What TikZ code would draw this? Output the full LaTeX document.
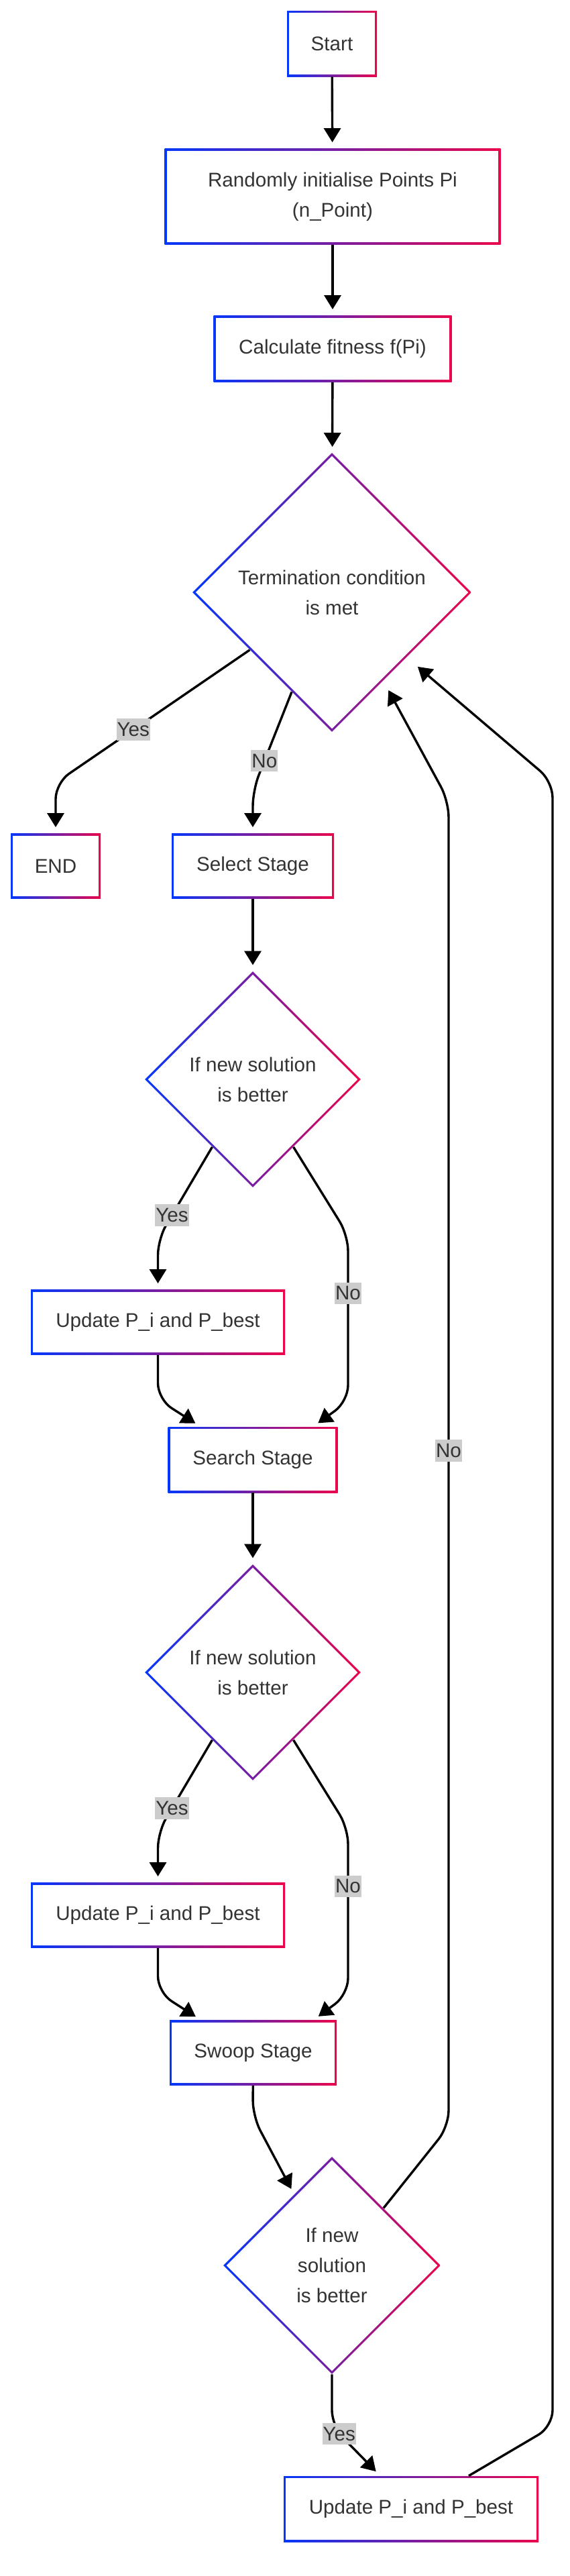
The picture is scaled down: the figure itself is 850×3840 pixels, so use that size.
\documentclass[tikz,border=0pt]{standalone}
\usepackage{fontspec}
\setmainfont{Liberation Sans}
\usetikzlibrary{shapes.geometric,arrows.meta}
\definecolor{gblue}{RGB}{5,55,250}
\definecolor{gred}{RGB}{235,5,75}
\definecolor{txt}{HTML}{333333}
\definecolor{lbg}{HTML}{CCCCCC}
\begin{document}
\begin{tikzpicture}[x=0.5pt,y=-0.5pt,
box/.style={rectangle,fill=white,inner sep=0pt,align=center,text=txt,font=\fontsize{14.8}{22.5}\selectfont,
 path picture={\shade[left color=gblue,right color=gred](path picture bounding box.south west)rectangle(path picture bounding box.north east);
 \fill[white]([shift={(1.6pt,1.6pt)}]path picture bounding box.south west)rectangle([shift={(-1.6pt,-1.6pt)}]path picture bounding box.north east);}},
dec/.style={diamond,aspect=1,fill=white,inner sep=0pt,align=center,text=txt,font=\fontsize{14.8}{22.5}\selectfont,
 path picture={\shade[left color=gblue,right color=gred](path picture bounding box.south west)rectangle(path picture bounding box.north east);
 \fill[white]([xshift=2.3pt]path picture bounding box.west)--([yshift=-2.3pt]path picture bounding box.north)--([xshift=-2.3pt]path picture bounding box.east)--([yshift=2.3pt]path picture bounding box.south)--cycle;}},
lbl/.style={sharp corners,fill=lbg,text=txt,font=\fontsize{14.8}{22.5}\selectfont,inner xsep=0.5pt,inner ysep=3pt},
arr/.style={-{Triangle[length=10.5pt,width=12.5pt]},line width=1.7pt,rounded corners=12pt,shorten >=4.5pt}]
\useasboundingbox(0,0)rectangle(850,3840);
\node[box,minimum width=67pt,minimum height=49pt](Start)at(495,65){Start};
\node[box,minimum width=250.5pt,minimum height=71.5pt](Init)at(496,293){Randomly initialise Points Pi\\(n\_Point)};
\node[box,minimum width=177.5pt,minimum height=49.5pt](Calc)at(496,520){Calculate fitness f(Pi)};
\node[dec,minimum size=208pt](Term)at(495,883){Termination condition\\is met};
\node[box,minimum width=67pt,minimum height=48.5pt](END)at(83,1291){END};
\node[box,minimum width=121pt,minimum height=48.5pt](Select)at(377,1291){Select Stage};
\node[dec,minimum size=161pt](Dec1)at(377,1609){If new solution\\is better};
\node[box,minimum width=189.5pt,minimum height=48.5pt](Upd1)at(235.5,1971){Update P\_i and P\_best};
\node[box,minimum width=126.5pt,minimum height=49pt](Search)at(377,2176){Search Stage};
\node[dec,minimum size=161pt](Dec2)at(377,2493){If new solution\\is better};
\node[box,minimum width=189.5pt,minimum height=48.5pt](Upd2)at(235.5,2855){Update P\_i and P\_best};
\node[box,minimum width=124.5pt,minimum height=48.5pt](Swoop)at(377.5,3060){Swoop Stage};
\node[dec,minimum size=162pt](Dec3)at(495,3377){If new\\solution\\is better};
\node[box,minimum width=190pt,minimum height=49pt](Upd3)at(613,3740){Update P\_i and P\_best};
\coordinate(back1)at([shift={(80,138)}]Term.center);
\coordinate(back2)at([shift={(121,105)}]Term.center);
\draw[arr](Start)--(Init);
\draw[arr](Init)--(Calc);
\draw[arr](Calc)--(Term);
\draw[arr](Term.215)--node[lbl,pos=0.6]{Yes}(83,1167)--(END);
\draw[arr](Term.248)--node[lbl,pos=0.7]{No}(377,1178)--(Select);
\draw[arr](Select)--(Dec1);
\draw[arr](Dec1.239)--node[lbl,pos=0.74]{Yes}(235.5,1847)--(Upd1);
\draw[arr](Dec1.301)--(519,1841)--node[lbl,pos=0.35]{No}(519,2089)--([xshift=45pt]Search.north);
\draw[arr](Upd1)--(235.5,2086)--([xshift=-39pt]Search.north);
\draw[arr](Search)--(Dec2);
\draw[arr](Dec2.239)--node[lbl,pos=0.74]{Yes}(235.5,2731)--(Upd2);
\draw[arr](Dec2.301)--(519,2725)--node[lbl,pos=0.35]{No}(519,2973)--([xshift=45pt]Swoop.north);
\draw[arr](Upd2)--(235.5,2970)--([xshift=-39pt]Swoop.north);
\draw[arr](Swoop)--(377,3155)--(Dec3.118);
\draw[arr](Dec3)--(495,3617)--node[lbl,pos=0.15]{Yes}([xshift=-23pt]Upd3.north);
\draw[arr](Dec3.48)--(669,3170)--node[lbl,pos=0.51]{No}(669,1194)--(back1);
\draw[arr]([xshift=43pt]Upd3.north)--(824,3617)--(824,1165)--(back2);
\end{tikzpicture}
\end{document}
